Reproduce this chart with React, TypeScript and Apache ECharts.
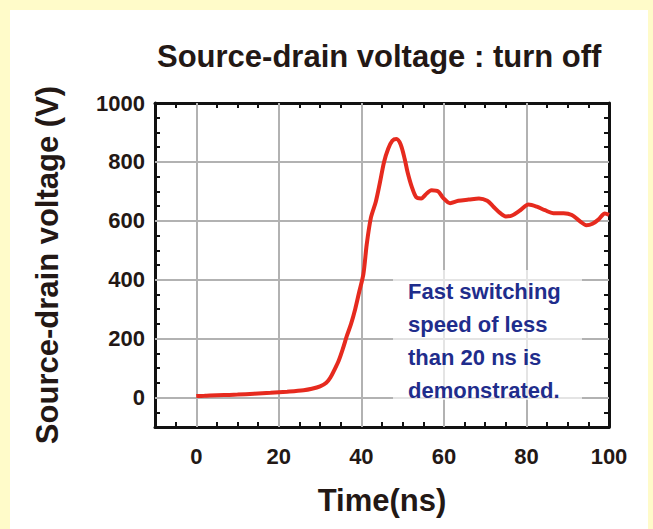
import React, { useEffect, useRef } from "react";
import * as echarts from "echarts";

const timeNs: number[] = [0, 2, 5, 8, 10, 14, 18, 22, 26, 28, 30, 31.5, 32.5, 33.5, 34.5, 35.5, 36.5, 37.5, 38.5, 39.5, 40.5, 41.3, 42.3, 43.5, 44.5, 45.5, 46.5, 47.5, 48.5, 49.5, 50.5, 51.2, 52.2, 53.3, 54.5, 55.5, 57, 58.6, 59.8, 61.5, 63.5, 66, 68.5, 70.5, 72, 73.5, 75, 76.5, 78.5, 80.5, 82.5, 84.5, 86.5, 89, 91, 93, 94.5, 96, 97.5, 99, 100];
const voltage: number[] = [5, 6, 8, 9, 10, 13, 16, 20, 25, 30, 38, 50, 68, 95, 125, 165, 210, 250, 300, 360, 420, 520, 610, 665, 730, 800, 845, 872, 878, 860, 810, 765, 716, 680, 676, 688, 704, 700, 678, 660, 668, 672, 676, 668, 648, 628, 615, 618, 636, 655, 648, 636, 626, 626, 620, 598, 585, 590, 605, 625, 620];
const xGridValues: number[] = [0, 20, 40, 60, 80];
const yGridValues: number[] = [0, 200, 400, 600, 800];
const annotationLines: string[] = ["Fast switching", "speed of less", "than 20 ns is", "demonstrated."];

const FONT = '"Liberation Sans", Arial, sans-serif';
const INK = "#231815";

export default function App() {
  const ref = useRef<HTMLDivElement>(null);
  useEffect(() => {
    if (!ref.current) return;
    const chart = echarts.init(ref.current, undefined, { renderer: "svg" });
    const axisLine = { show: true, onZero: false, lineStyle: { color: "#111", width: 3 } };
    const tick = { show: true, inside: true, length: 5, lineStyle: { color: "#111", width: 2 } };
    const minor = { show: true, splitNumber: 2, length: 5, lineStyle: { color: "#111", width: 2 } };
    const labelStyle = { fontFamily: FONT, fontWeight: "bold" as const, fontSize: 22, color: INK };
    chart.setOption({
      animation: false,
      title: {
        text: "Source-drain voltage : turn off",
        left: 152,
        top: 36,
        textStyle: { fontFamily: FONT, fontWeight: "bold", fontSize: 31, color: INK },
      },
      grid: { left: 155, right: 44, top: 103, bottom: 102 },
      xAxis: [
        {
          type: "value",
          min: -10,
          max: 100,
          interval: 10,
          position: "bottom",
          name: "Time(ns)",
          nameLocation: "middle",
          nameGap: 58,
          nameTextStyle: { fontFamily: FONT, fontWeight: "bold", fontSize: 31, color: INK },
          axisLine,
          axisTick: tick,
          minorTick: minor,
          splitLine: { show: false },
          axisLabel: {
            ...labelStyle,
            margin: 18,
            formatter: (v: number) => (v >= 0 && v % 20 === 0 ? String(v) : ""),
          },
        },
        {
          type: "value",
          min: -10,
          max: 100,
          interval: 10,
          position: "top",
          axisLine,
          axisTick: tick,
          minorTick: minor,
          splitLine: { show: false },
          axisLabel: { show: false },
        },
      ],
      yAxis: [
        {
          type: "value",
          min: -100,
          max: 1000,
          interval: 100,
          position: "left",
          name: "Source-drain voltage (V)",
          nameLocation: "middle",
          nameGap: 92,
          nameTextStyle: { fontFamily: FONT, fontWeight: "bold", fontSize: 31, color: INK },
          axisLine,
          axisTick: tick,
          minorTick: minor,
          splitLine: { show: false },
          axisLabel: {
            ...labelStyle,
            margin: 10,
            formatter: (v: number) => (v >= 0 && v % 200 === 0 ? String(v) : ""),
          },
        },
        {
          type: "value",
          min: -100,
          max: 1000,
          interval: 100,
          position: "right",
          axisLine,
          axisTick: tick,
          minorTick: minor,
          splitLine: { show: false },
          axisLabel: { show: false },
        },
      ],
      graphic: [
        {
          type: "rect",
          z: 50,
          shape: { x: 393, y: 270, width: 189, height: 130 },
          style: { fill: "rgba(255,255,255,0.65)" },
          silent: true,
        },
        {
          type: "text",
          z: 51,
          x: 408,
          y: 275,
          style: {
            text: annotationLines.join("\n"),
            fontFamily: FONT,
            fontWeight: "bold",
            fontSize: 22,
            lineHeight: 33,
            fill: "#1f2d8c",
            textVerticalAlign: "top",
            textAlign: "left",
          },
        },
      ],
      series: [
        {
          type: "line",
          name: "grid",
          data: [],
          z: 1,
          silent: true,
          markLine: {
            z: 1,
            silent: true,
            symbol: "none",
            animation: false,
            label: { show: false },
            lineStyle: { color: "#b2b2b2", width: 2, type: "solid" },
            data: [
              ...xGridValues.map((v) => ({ xAxis: v })),
              ...yGridValues.map((v) => ({ yAxis: v })),
            ],
          },
        },
        {
          type: "line",
          name: "Vds",
          z: 10,
          data: timeNs.map((t, i) => [t, voltage[i]]),
          showSymbol: false,
          symbol: "none",
          smooth: 0.3,
          lineStyle: { color: "#e62a1e", width: 4 },
        },
      ],
    });
    return () => chart.dispose();
  }, []);

  return (
    <div style={{ position: "absolute", left: 0, top: 0, width: 653, height: 529, background: "#fffbc9", overflow: "hidden" }}>
      <div style={{ position: "absolute", left: 10, top: 10, width: 638, height: 519, background: "#ffffff" }} />
      <div ref={ref} style={{ position: "absolute", left: 0, top: 0, width: 653, height: 529 }} />
    </div>
  );
}
